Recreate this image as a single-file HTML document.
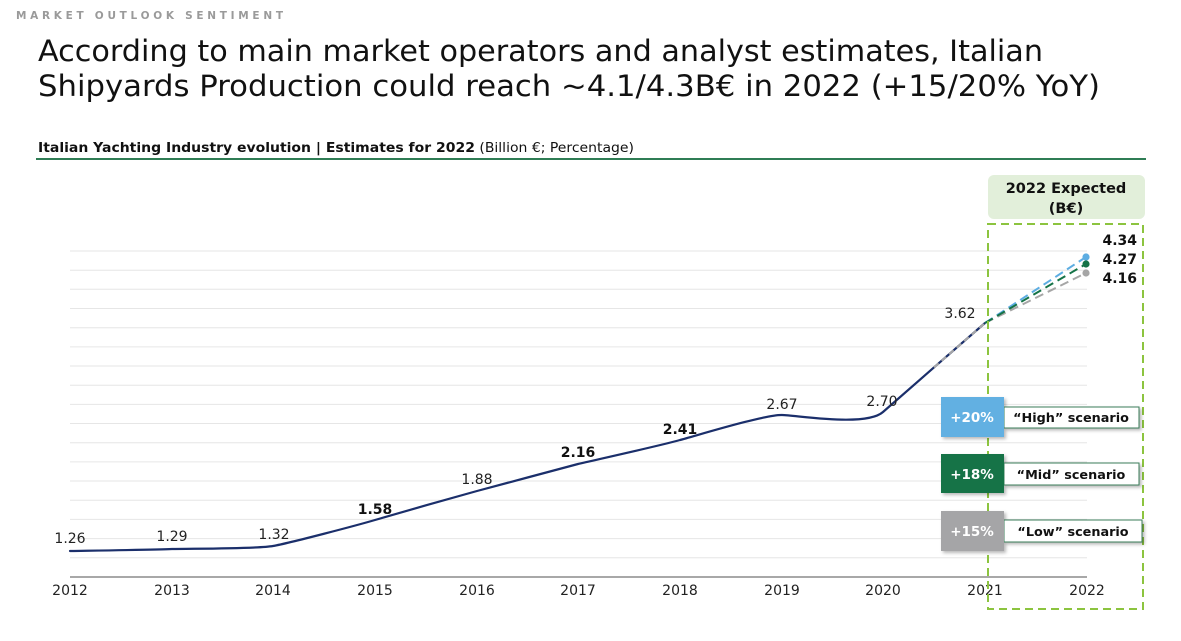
<!DOCTYPE html>
<html>
<head>
<meta charset="utf-8">
<style>
  html,body{margin:0;padding:0;background:#fff;}
  body{width:1181px;height:641px;overflow:hidden;}
  svg{display:block;}
  text{font-family:"DejaVu Sans","Liberation Sans",sans-serif;}
</style>
</head>
<body>
<svg width="1181" height="641" viewBox="0 0 1181 641" xmlns="http://www.w3.org/2000/svg">
  <defs>
    <filter id="sh" x="-20%" y="-20%" width="150%" height="160%">
      <feDropShadow dx="2" dy="2" stdDeviation="1.5" flood-color="#000" flood-opacity="0.28"/>
    </filter>
  </defs>

  <!-- header -->
  <text x="16" y="19" font-size="10.5" font-weight="bold" fill="#9a9a9a" textLength="267" lengthAdjust="spacing">MARKET OUTLOOK SENTIMENT</text>

  <!-- title -->
  <text x="38" y="61" font-size="29" fill="#111" textLength="1005" lengthAdjust="spacingAndGlyphs">According to main market operators and analyst estimates, Italian</text>
  <text x="38" y="96" font-size="29" fill="#111" textLength="1062" lengthAdjust="spacingAndGlyphs">Shipyards Production could reach ~4.1/4.3B€ in 2022 (+15/20% YoY)</text>

  <!-- subtitle -->
  <text x="38" y="152" font-size="13" fill="#111" textLength="596" lengthAdjust="spacingAndGlyphs"><tspan font-weight="bold">Italian Yachting Industry evolution | Estimates for 2022</tspan> (Billion €; Percentage)</text>
  <line x1="36" y1="159" x2="1146" y2="159" stroke="#2f7d55" stroke-width="2"/>

  <!-- gridlines -->
  <g stroke="#e6e6e6" stroke-width="1">
    <line x1="70" x2="1087" y1="251" y2="251"/>
    <line x1="70" x2="1087" y1="270.2" y2="270.2"/>
    <line x1="70" x2="1087" y1="289.3" y2="289.3"/>
    <line x1="70" x2="1087" y1="308.5" y2="308.5"/>
    <line x1="70" x2="1087" y1="327.7" y2="327.7"/>
    <line x1="70" x2="1087" y1="346.9" y2="346.9"/>
    <line x1="70" x2="1087" y1="366" y2="366"/>
    <line x1="70" x2="1087" y1="385.2" y2="385.2"/>
    <line x1="70" x2="1087" y1="404.4" y2="404.4"/>
    <line x1="70" x2="1087" y1="423.5" y2="423.5"/>
    <line x1="70" x2="1087" y1="442.7" y2="442.7"/>
    <line x1="70" x2="1087" y1="461.9" y2="461.9"/>
    <line x1="70" x2="1087" y1="481" y2="481"/>
    <line x1="70" x2="1087" y1="500.2" y2="500.2"/>
    <line x1="70" x2="1087" y1="519.4" y2="519.4"/>
    <line x1="70" x2="1087" y1="538.6" y2="538.6"/>
    <line x1="70" x2="1087" y1="557.7" y2="557.7"/>
  </g>
  <line x1="70" x2="1087" y1="577" y2="577" stroke="#8c8c8c" stroke-width="1.6"/>

  <!-- x labels -->
  <g font-size="14" fill="#222" text-anchor="middle">
    <text x="70" y="595">2012</text>
    <text x="172" y="595">2013</text>
    <text x="273" y="595">2014</text>
    <text x="375" y="595">2015</text>
    <text x="477" y="595">2016</text>
    <text x="578" y="595">2017</text>
    <text x="680" y="595">2018</text>
    <text x="782" y="595">2019</text>
    <text x="883" y="595">2020</text>
    <text x="985" y="595">2021</text>
    <text x="1087" y="595">2022</text>
  </g>

  <!-- main curve -->
  <path fill="none" stroke="#1b2f6b" stroke-width="2.2" stroke-linecap="round"
    d="M70,551 C87,550.7 155,549.8 172,549 C189,548.5 256,549 273,546 C290,543 358,525 375,520 C392,515 460,495.5 477,491 C494,486.5 561,468.5 578,464 C595,460 663,445 680,440 C697,435.5 765,414.5 782,415 C799,415.5 866,427 883,412 C900,397 968,337.8 985,323"/>
  <!-- grey dashed overlay near 2021 -->
  <path fill="none" stroke="#a6a6a6" stroke-width="2" stroke-dasharray="6 4"
    d="M934,367.4 C955.25,348.9 976.5,330.4 985,323"/>

  <!-- scenario dashed lines -->
  <line x1="985" y1="323" x2="1086" y2="257" stroke="#5dade2" stroke-width="2" stroke-dasharray="9 5"/>
  <line x1="985" y1="323" x2="1086" y2="273" stroke="#a6a6a6" stroke-width="2" stroke-dasharray="9 5"/>
  <line x1="985" y1="323" x2="1086" y2="264" stroke="#157347" stroke-width="2" stroke-dasharray="9 5"/>
  <circle cx="1086" cy="257" r="3.6" fill="#5dade2"/>
  <circle cx="1086" cy="264" r="3.6" fill="#157347"/>
  <circle cx="1086" cy="273" r="3.6" fill="#a6a6a6"/>

  <!-- data labels -->
  <g font-size="14" fill="#222" text-anchor="middle">
    <text x="70" y="543">1.26</text>
    <text x="172" y="541">1.29</text>
    <text x="274" y="539">1.32</text>
    <text x="375" y="514" font-weight="bold" fill="#111">1.58</text>
    <text x="477" y="484">1.88</text>
    <text x="578" y="457" font-weight="bold" fill="#111">2.16</text>
    <text x="680" y="434" font-weight="bold" fill="#111">2.41</text>
    <text x="782" y="409">2.67</text>
    <text x="882" y="406">2.70</text>
    <text x="960" y="318">3.62</text>
  </g>

  <!-- expected box -->
  <rect x="988" y="175" width="157" height="44" rx="6" fill="#e2efda"/>
  <text x="1066" y="193" font-size="14.5" font-weight="bold" fill="#111" text-anchor="middle">2022 Expected</text>
  <text x="1066" y="213" font-size="14.5" font-weight="bold" fill="#111" text-anchor="middle">(B€)</text>

  <!-- dashed frame -->
  <rect x="988" y="224" width="155" height="385" fill="none" stroke="#8cc43f" stroke-width="2" stroke-dasharray="8 5"/>

  <!-- values -->
  <g font-size="14" font-weight="bold" fill="#111" text-anchor="end">
    <text x="1137" y="245">4.34</text>
    <text x="1137" y="264">4.27</text>
    <text x="1137" y="283">4.16</text>
  </g>

  <!-- scenario boxes -->
  <g filter="url(#sh)">
    <rect x="1004" y="407" width="135" height="21" fill="#fff" stroke="#3b7d5a" stroke-width="1"/>
    <rect x="941" y="397" width="63" height="40" fill="#62b0e2"/>
    <rect x="1004" y="463" width="135" height="22" fill="#fff" stroke="#3b7d5a" stroke-width="1"/>
    <rect x="941" y="454" width="63" height="39" fill="#157347"/>
    <rect x="1004" y="520" width="138" height="22" fill="#fff" stroke="#3b7d5a" stroke-width="1"/>
    <rect x="941" y="511" width="63" height="40" fill="#a5a5a7"/>
  </g>
  <g font-size="13.5" font-weight="bold" fill="#fff" text-anchor="middle">
    <text x="972" y="422">+20%</text>
    <text x="972" y="479">+18%</text>
    <text x="972" y="536">+15%</text>
  </g>
  <g font-size="12.8" font-weight="bold" fill="#111" text-anchor="middle">
    <text x="1071" y="422">“High” scenario</text>
    <text x="1071" y="479">“Mid” scenario</text>
    <text x="1073" y="536">“Low” scenario</text>
  </g>
</svg>
</body>
</html>
